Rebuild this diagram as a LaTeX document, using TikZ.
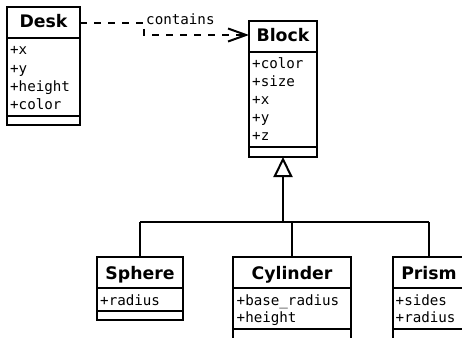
\documentclass[tikz,border=0pt]{standalone}
\usepackage{fontspec}
\setmainfont{DejaVu Sans}
\newfontfamily\monof{DejaVu Sans Mono}
\usetikzlibrary{arrows.meta}
\tikzset{
  classbox/.style={draw, line width=2pt, inner sep=0pt, outer sep=0pt},
  divline/.style={line width=2pt},
  ctitle/.style={font=\fontsize{17.3}{20}\selectfont\bfseries, inner sep=0pt, anchor=base},
  cattr/.style={font=\monof\fontsize{14.2}{18}\selectfont, inner sep=0pt, anchor=base west},
  dep/.style={line width=2pt, dash pattern=on 7pt off 7pt, -{Straight Barb[length=18pt,width=13pt,line width=2pt]}},
  genstem/.style={line width=2pt, -{Triangle[open,length=20pt,width=19pt,line width=2pt]}},
  genline/.style={line width=2pt},
  lbl/.style={font=\monof\fontsize{14.2}{16}\selectfont, inner sep=0pt}
}
\begin{document}
\begin{tikzpicture}[x=1pt,y=-1pt]
\useasboundingbox (0,0) rectangle (462,337);
% Desk
\node[classbox, minimum width=73pt, minimum height=118pt] (desk) at (43.5,66) {};
\draw[divline] (7,38) -- (80,38);
\draw[divline] (7,116) -- (80,116);
\node[ctitle] (deskt) at (43.5,28) {Desk};
\node[cattr] (deska1) at (10,55) {+x};
\node[cattr] (deska2) at (10,73) {+y};
\node[cattr] (deska3) at (10,91) {+height};
\node[cattr] (deska4) at (10,109) {+color};
% Block
\node[classbox, minimum width=68pt, minimum height=136pt] (block) at (283,89) {};
\draw[divline] (249,52) -- (317,52);
\draw[divline] (249,147) -- (317,147);
\node[ctitle] (blockt) at (283,41.5) {Block};
\node[cattr] (blocka1) at (252,68) {+color};
\node[cattr] (blocka2) at (252,86) {+size};
\node[cattr] (blocka3) at (252,104) {+x};
\node[cattr] (blocka4) at (252,122) {+y};
\node[cattr] (blocka5) at (252,140) {+z};
% Sphere
\node[classbox, minimum width=86pt, minimum height=63pt] (sphere) at (140,288.5) {};
\draw[divline] (97,288) -- (183,288);
\draw[divline] (97,311) -- (183,311);
\node[ctitle] (spheret) at (140,279) {Sphere};
\node[cattr] (spherea1) at (100,305) {+radius};
% Cylinder
\node[classbox, minimum width=118pt, minimum height=98pt] (cyl) at (292,306) {};
\draw[divline] (233,288) -- (351,288);
\draw[divline] (233,329) -- (351,329);
\node[ctitle] (cylt) at (292,279) {Cylinder};
\node[cattr] (cyla1) at (236.5,305) {+base\_radius};
\node[cattr] (cyla2) at (236.5,322) {+height};
% Prism
\node[classbox, minimum width=72pt, minimum height=98pt] (prism) at (429,306) {};
\draw[divline] (393,288) -- (465,288);
\draw[divline] (393,329) -- (465,329);
\node[ctitle] (prismt) at (429,279) {Prism};
\node[cattr] (prisma1) at (395.5,305) {+sides};
\node[cattr] (prisma2) at (395.5,322) {+radius};
% dependency
\coordinate (c1) at (144,23);
\coordinate (c2) at (144,35);
\draw[dep] (desk.east |- c1) -- (c1) -- (c2) -- (block.west |- c2);
\node[lbl, anchor=base west] (contains) at (146,25) {contains};
% generalization
\coordinate (j) at (block.south |- 0,222);
\draw[genstem] (j) -- (block.south);
\draw[genline] (sphere.north |- j) -- (prism.north |- j);
\draw[genline] (sphere.north |- j) -- (sphere.north);
\draw[genline] (cyl.north |- j) -- (cyl.north);
\draw[genline] (prism.north |- j) -- (prism.north);
\end{tikzpicture}
\end{document}
